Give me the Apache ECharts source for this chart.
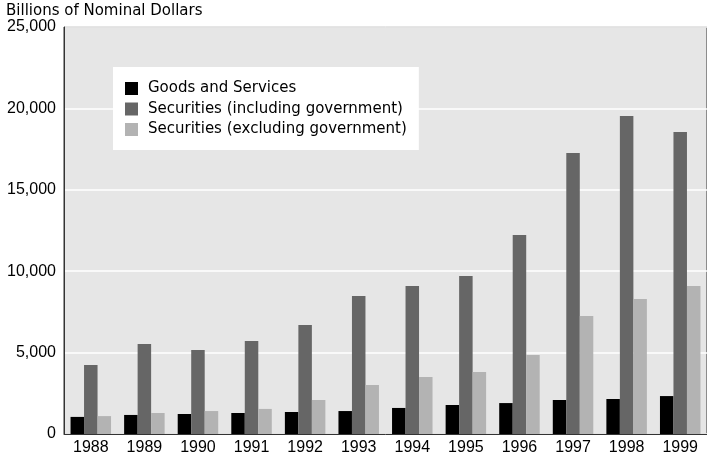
<!DOCTYPE html>
<html>
<head>
<meta charset="utf-8">
<title>Goods, Services and Securities Transactions</title>
<script src="https://cdn.jsdelivr.net/npm/echarts@6/dist/echarts.min.js"></script>
<style>
  html, body { margin: 0; padding: 0; background: #ffffff; }
  #chart { width: 707px; height: 459px; }
</style>
</head>
<body>
<div id="chart"></div>
<script>
// Annual values, billions of nominal dollars
var years = ['1988', '1989', '1990', '1991', '1992', '1993', '1994', '1995', '1996', '1997', '1998', '1999'];
var goodsAndServices = [1050, 1170, 1230, 1290, 1350, 1410, 1600, 1780, 1900, 2090, 2150, 2330];
var securitiesInclGov = [4240, 5530, 5160, 5710, 6700, 8480, 9090, 9700, 12220, 17260, 19530, 18550];
var securitiesExclGov = [1100, 1290, 1410, 1540, 2090, 3010, 3500, 3810, 4850, 7250, 8290, 9090];
var yTicks = { min: 0, max: 25000, interval: 5000 };

var NUM_FONT = '"Liberation Sans", Arial, Helvetica, sans-serif';
var TEXT_FONT = '"DejaVu Sans", "Liberation Sans", Arial, sans-serif';
var chart = echarts.init(document.getElementById('chart'), null, { renderer: 'canvas' });

function barSeries(name, data, color) {
  return {
    name: name,
    type: 'bar',
    data: data,
    barWidth: 13.5,
    barGap: '0%',
    itemStyle: { color: color },
    emphasis: { disabled: true },
    animation: false
  };
}

chart.setOption({
  animation: false,
  textStyle: { fontFamily: TEXT_FONT },
  title: {
    text: 'Billions of Nominal Dollars',
    left: 6,
    top: 4,
    padding: 0,
    textStyle: { fontFamily: TEXT_FONT, fontSize: 15, fontWeight: 'normal', color: '#000' }
  },
  grid: {
    left: 64,
    right: -1,
    top: 27,
    bottom: 25,
    show: true,
    backgroundColor: '#e6e6e6',
    borderColor: '#333',
    borderWidth: 1
  },
  legend: {
    orient: 'vertical',
    left: 113,
    top: 67,
    backgroundColor: '#ffffff',
    padding: [14, 12, 13, 12],
    itemWidth: 13,
    itemHeight: 13,
    itemGap: 5.5,
    icon: 'rect',
    selectedMode: false,
    textStyle: { fontFamily: TEXT_FONT, fontSize: 15, color: '#000', padding: [0, 0, 0, 5] },
    data: ['Goods and Services', 'Securities (including government)', 'Securities (excluding government)']
  },
  xAxis: {
    type: 'category',
    data: years,
    boundaryGap: true,
    axisLine: { show: true, lineStyle: { color: '#333', width: 1 } },
    axisTick: { show: false },
    axisLabel: { color: '#000', fontSize: 16, fontFamily: NUM_FONT, margin: 6 },
    splitLine: { show: false }
  },
  yAxis: {
    type: 'value',
    min: yTicks.min,
    max: yTicks.max,
    interval: yTicks.interval,
    axisLine: { show: true, lineStyle: { color: '#333', width: 1 } },
    axisTick: { show: false },
    axisLabel: {
      color: '#000',
      fontSize: 16,
      fontFamily: NUM_FONT,
      margin: 8,
      formatter: function (v) { return v.toLocaleString('en-US'); }
    },
    splitLine: { show: true, lineStyle: { color: '#ffffff', width: 1.5 } }
  },
  series: [
    barSeries('Goods and Services', goodsAndServices, '#000000'),
    barSeries('Securities (including government)', securitiesInclGov, '#666666'),
    barSeries('Securities (excluding government)', securitiesExclGov, '#b3b3b3')
  ]
});
</script>
</body>
</html>
